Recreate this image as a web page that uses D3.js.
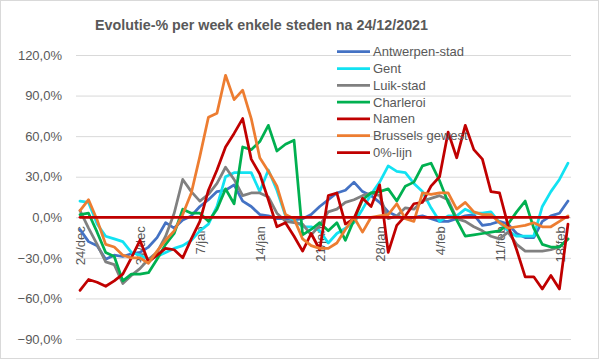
<!DOCTYPE html>
<html>
<head>
<meta charset="utf-8">
<script src="https://cdn.jsdelivr.net/npm/d3@7"></script>
<style>
html,body{margin:0;padding:0;background:#fff;}
svg{display:block;}
text{font-family:"Liberation Sans",Arial,sans-serif;fill:#595959;}
</style>
</head>
<body>
<svg id="chart" width="599" height="359"></svg>
<script>
const dates = ["24/dec","25/dec","26/dec","27/dec","28/dec","29/dec","30/dec","31/dec",
"1/jan","2/jan","3/jan","4/jan","5/jan","6/jan","7/jan","8/jan","9/jan","10/jan","11/jan","12/jan",
"13/jan","14/jan","15/jan","16/jan","17/jan","18/jan","19/jan","20/jan","21/jan","22/jan","23/jan",
"24/jan","25/jan","26/jan","27/jan","28/jan","29/jan","30/jan","31/jan",
"1/feb","2/feb","3/feb","4/feb","5/feb","6/feb","7/feb","8/feb","9/feb","10/feb","11/feb","12/feb",
"13/feb","14/feb","15/feb","16/feb","17/feb","18/feb","19/feb"];

const tickDates = ["24/dec","31/dec","7/jan","14/jan","21/jan","28/jan","4/feb","11/feb","18/feb"];
const yTicks = [-90,-60,-30,0,30,60,90,120];

const antwerpen = [-9,-18,-21,-31,-28,-29,-27,-26,-22,-15,-4,-8,-2,1,8,13,19,20,24,12,8,2,1,-1,-1,-2,-1,2,8,13,18,20,26,19,16,11,4,1,-1,0,1,-1,-3,-3,-1,1,2,-6,-5,-3,-5,-12,-15,-15,-3,1,3,12];
const gent = [12,11,-5,-14,-16,-18,-26,-28,-31,-29,-26,-23,-21,-17,-10,-5,8,30,33,33,33,19,35,20,1,-2,-7,-7,-10,-19,-12,-8,-4,6,17,26,38,34,33,25,19,7,-3,1,1,6,3,3,4,-4,-10,-14,-14,-14,8,19,28,40];
const luik = [5,-8,-20,-33,-35,-49,-43,-38,-31,-26,-14,3,28,19,12,17,25,37,28,16,18,18,15,3,-3,-4,-5,-13,-6,4,6,11,13,16,18,16,-1,1,7,6,12,14,16,13,-1,-3,-7,-10,-14,-16,-11,-20,-25,-25,-25,-24,-22,-16];
const charleroi = [2,3,-11,-26,-29,-47,-42,-42,-41,-31,-20,-12,6,3,3,-3,6,21,10,52,50,56,68,49,54,57,-13,-9,-4,-10,-4,-17,-2,13,18,19,21,12,23,26,38,40,27,11,-2,-14,-13,-12,-11,-10,-5,4,12,-8,-20,-22,-22,-16];
const namen = [-54,-46,-48,-51,-47,-42,-30,-17,-33,-28,-23,-24,-30,-16,-3,20,35,52,62,73,43,32,13,-7,-4,-14,-25,-12,-24,16,18,-5,-1,14,8,24,-26,-6,1,10,11,23,30,63,44,68,50,43,19,18,-6,-24,-44,-44,-53,-43,-53,-5];
const brussel = [5,13,-2,-20,-22,-28,-30,-30,-34,-25,-17,-10,2,18,45,74,77,105,87,94,73,44,34,23,2,-1,-16,-21,-23,-23,-19,-9,0,-11,0,1,2,10,-1,-3,18,17,18,18,6,11,4,2,2,-4,-8,-7,-6,-4,-7,-7,-3,1];
const nulLijn = dates.map(() => 0);

const seriesNames = ["Antwerpen-stad","Gent","Luik-stad","Charleroi","Namen","Brussels gewest","0%-lijn"];
const seriesValues = [antwerpen, gent, luik, charleroi, namen, brussel, nulLijn];
const seriesColors = ["#4472C4","#12E2F2","#808080","#00B050","#C00000","#ED7D31","#C00000"];

const svg = d3.select("#chart");
const W = 599, H = 359;
const plot = {left:76, right:571, top:55, bottom:339};

svg.append("rect").attr("x",0.5).attr("y",0.5).attr("width",W-1).attr("height",H-1)
  .attr("fill","#fff").attr("stroke","#D9D9D9");

svg.append("text").attr("x",261.5).attr("y",30).attr("text-anchor","middle")
  .style("font-size","14.3px").style("font-weight","bold")
  .text("Evolutie-% per week enkele steden na 24/12/2021");

const x = d3.scalePoint().domain(dates).range([80, 568]);
const y = d3.scaleLinear().domain([-90,120]).range([plot.bottom, plot.top]);

// y axis with gridlines
const yAxis = svg.append("g").attr("transform",`translate(${plot.left},0)`)
  .call(d3.axisLeft(y).tickValues(yTicks).tickSize(-(plot.right-plot.left)).tickPadding(14)
    .tickFormat(d => d3.format(".1f")(d).replace(".", ",") + "%"));
yAxis.select(".domain").remove();
yAxis.selectAll(".tick line").attr("stroke","#D9D9D9").attr("stroke-width",1);
yAxis.selectAll(".tick text").style("font-size","13px").style("font-family","Liberation Sans, Arial, sans-serif").attr("fill","#595959");

// x axis labels at 0
const xAxis = svg.append("g").attr("transform",`translate(0,${y(0)})`)
  .call(d3.axisBottom(x).tickValues(tickDates).tickSize(0));
xAxis.select(".domain").remove();
xAxis.selectAll(".tick text")
  .attr("transform","rotate(-90)")
  .attr("text-anchor","end")
  .attr("x",-9).attr("y",0).attr("dy","0.35em")
  .style("font-size","13px").style("font-family","Liberation Sans, Arial, sans-serif").attr("fill","#595959");

// lines
const line = d3.line().x((d,i) => x(dates[i])).y(d => y(d));
seriesValues.forEach((vals, k) => {
  svg.append("path").datum(vals)
    .attr("fill","none").attr("stroke",seriesColors[k]).attr("stroke-width",2.75)
    .attr("stroke-linejoin","round").attr("stroke-linecap","round")
    .attr("d", line);
});

// legend
const lg = svg.append("g");
seriesNames.forEach((name, k) => {
  const cy = 51.7 + k * 16.8;
  lg.append("line").attr("x1",337).attr("x2",370).attr("y1",cy).attr("y2",cy)
    .attr("stroke",seriesColors[k]).attr("stroke-width",2.75);
  lg.append("text").attr("x",373).attr("y",cy).attr("dy","0.35em")
    .style("font-size","13px").text(name);
});
</script>
</body>
</html>
